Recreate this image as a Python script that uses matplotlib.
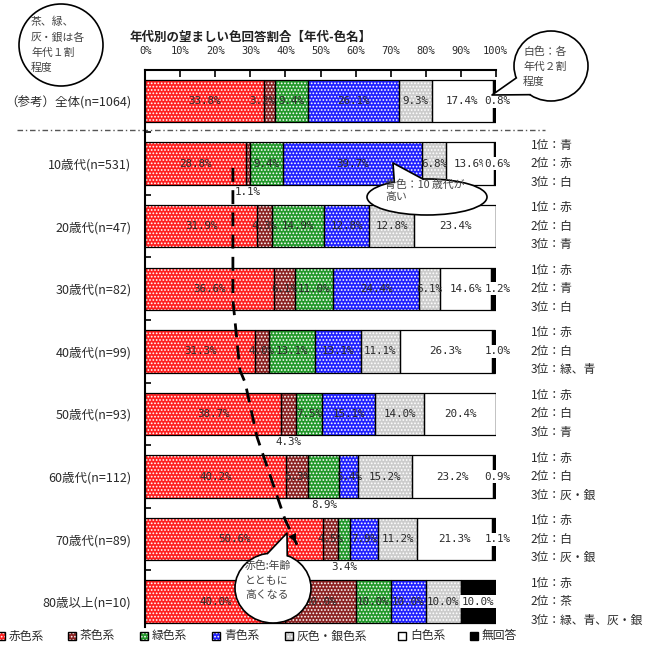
import matplotlib
matplotlib.use('Agg')
import matplotlib.pyplot as plt
import numpy as np
from matplotlib.patches import Ellipse, Polygon, Rectangle

plt.rcParams['font.family'] = ['Noto Sans CJK JP', 'DejaVu Sans']
plt.rcParams['hatch.linewidth'] = 0.8

# --- data (percent of answers per age group) ---
groups = ['（参考）全体(n=1064)', '10歳代(n=531)', '20歳代(n=47)', '30歳代(n=82)',
          '40歳代(n=99)', '50歳代(n=93)', '60歳代(n=112)', '70歳代(n=89)', '80歳以上(n=10)']
red = [33.8, 28.8, 31.9, 36.6, 31.3, 38.7, 40.2, 50.6, 40.0]
brown = [3.2, 1.1, 4.3, 6.1, 4.0, 4.3, 6.3, 4.5, 20.0]
green = [9.4, 9.4, 14.9, 11.0, 13.1, 7.5, 8.9, 3.4, 10.0]
blue = [26.1, 39.7, 12.8, 24.4, 13.1, 15.1, 5.4, 7.9, 10.0]
gray = [9.3, 6.8, 12.8, 6.1, 11.1, 14.0, 15.2, 11.2, 10.0]
white = [17.4, 13.6, 23.4, 14.6, 26.3, 20.4, 23.2, 21.3, 0.0]
no_answer = [0.8, 0.6, 0.0, 1.2, 1.0, 0.0, 0.9, 1.1, 10.0]

series_names = ['赤色系', '茶色系', '緑色系', '青色系', '灰色・銀色系', '白色系', '無回答']
ranks = ['',
         '1位：青\n2位：赤\n3位：白',
         '1位：赤\n2位：白\n3位：青',
         '1位：赤\n2位：青\n3位：白',
         '1位：赤\n2位：白\n3位：緑、青',
         '1位：赤\n2位：白\n3位：青',
         '1位：赤\n2位：白\n3位：灰・銀',
         '1位：赤\n2位：白\n3位：灰・銀',
         '1位：赤\n2位：茶\n3位：緑、青、灰・銀']

colors = ['#ff2020', '#8c2323', '#22992a', '#2020ff', '#cccccc', '#ffffff', '#000000']
hatches = ['.....', '.....', '.....', '.....', '.....', None, None]
txt_col = '#2a2a2a'
num_font = 'DejaVu Sans Mono'

# labels drawn just below the bar (row, series)
below = {(1, 1), (5, 1), (6, 2), (7, 2)}
# small horizontal nudges of crowded labels (row, series): shift in %
nudge = {(0, 1): -2.0}

# dashed trend line for red (x in %, y in row units)
trend_x = [25.0, 25.0, 27.0, 28.5, 31.9, 37.0, 39.9]
trend_y = [1.07, 3.18, 4.30, 4.50, 5.37, 6.21, 6.69]
trend_tip = (43.3, 7.09)

fig = plt.figure(figsize=(6.46, 6.45), dpi=100)
ax = fig.add_axes([145.3 / 646, 1 - 626.8 / 645, 350.4 / 646, 557.1 / 645])

values = np.array([red, brown, green, blue, gray, white, no_answer])
y = np.arange(len(groups))
left = np.zeros(len(groups))
for k in range(len(series_names)):
    ax.barh(y, values[k], left=left, height=0.68, color=colors[k], hatch=hatches[k],
            edgecolor='white', linewidth=0, zorder=2)
    ax.barh(y, values[k], left=left, height=0.68, fill=False, edgecolor='black',
            linewidth=0.9, zorder=3)
    for i in range(len(groups)):
        v = values[k][i]
        if v == 0:
            continue
        cx = left[i] + v / 2 + nudge.get((i, k), 0)
        cy = y[i]
        kw = dict(ha='center', va='center', fontsize=7.8, family=num_font, color=txt_col, zorder=4)
        if k == 6 and v < 5:
            cx = 100.5
        if k == 6:
            kw['bbox'] = dict(boxstyle='square,pad=0.15', fc='white', ec='none')
        if (i, k) in below:
            cy = y[i] + 0.45
        ax.text(cx, cy, f'{v:.1f}%', **kw)
    left += values[k]

# trend arrow
ax.plot(trend_x + [trend_tip[0]], trend_y + [trend_tip[1]], color='black', lw=2,
        dashes=(5, 3), zorder=5, clip_on=False)
ax.annotate('', xy=trend_tip, xytext=(trend_x[-1], trend_y[-1]),
            arrowprops=dict(arrowstyle='-|>,head_length=0.6,head_width=0.3', color='black', lw=0),
            zorder=5)

ax.set_xlim(0, 100)
ax.set_ylim(8.4, -0.5)
ax.xaxis.tick_top()
ax.set_xticks(range(0, 101, 10))
ax.set_xticklabels([f'{v}%' for v in range(0, 101, 10)], family=num_font, fontsize=7.5, color=txt_col)
ax.tick_params(axis='x', direction='in', length=5, width=1.2, pad=10)
ax.set_yticks(y)
ax.set_yticklabels(groups, fontsize=9, color=txt_col)
ax.tick_params(axis='y', which='major', length=0, pad=10)
ax.set_yticks(np.arange(0.5, 8, 1), minor=True)
ax.tick_params(axis='y', which='minor', direction='in', length=4, width=1.2)
for s in ['right', 'bottom']:
    ax.spines[s].set_visible(False)
for s in ['top', 'left']:
    ax.spines[s].set_linewidth(1.5)
ax.set_facecolor('none')

# separator between total and age groups
ax.plot([-36.6, 114], [0.47, 0.47], color='#555555', lw=1, ls=(0, (4, 2, 1, 2)), clip_on=False)

# ranking notes
for i, r in enumerate(ranks):
    if r:
        ax.text(110, y[i], r, ha='left', va='center', fontsize=8.5, color=txt_col, linespacing=1.55)

fig.text(130 / 646, 1 - 37 / 645, '年代別の望ましい色回答割合【年代-色名】', ha='left', va='center',
         fontsize=9, fontweight='bold', color='#222222')

# overlay in pixel coordinates for callouts and legend
ov = fig.add_axes([0, 0, 1, 1], zorder=10)
ov.set_xlim(0, 646)
ov.set_ylim(645, 0)
ov.axis('off')
ov.patch.set_alpha(0)


def bubble(cx, cy, rx, ry, lines, tx, ty, tip=None, a1=0, a2=0, ls=1.6):
    ov.add_patch(Ellipse((cx, cy), 2 * rx, 2 * ry, fc='white', ec='black', lw=1.2))
    if tip is not None:
        p1 = (cx + rx * np.cos(np.radians(a1)), cy + ry * np.sin(np.radians(a1)))
        p2 = (cx + rx * np.cos(np.radians(a2)), cy + ry * np.sin(np.radians(a2)))
        ov.add_patch(Polygon([p1, tip, p2, (cx, cy)], fc='white', ec='none'))
        ov.plot([p1[0], tip[0], p2[0]], [p1[1], tip[1], p2[1]], color='black', lw=1.2)
    ov.text(tx, ty, lines, ha='left', va='center', fontsize=7.8, color='#444444', linespacing=ls)


bubble(61, 45, 42, 41, '茶、緑、\n灰・銀は各\n年代１割\n程度', 31, 45)
bubble(551, 66, 37, 35, '白色：各\n年代２割\n程度', 523, 67, tip=(492, 95), a1=125, a2=160)
bubble(427, 197, 60, 18, '青色：10 歳代が\n高い', 385, 191, tip=(393, 163), a1=237, a2=266, ls=1.3)
bubble(273, 588, 38, 35, '赤色:年齢\nとともに\n高くなる', 245, 580, tip=(287, 533), a1=262, a2=292)

# legend
leg_x = [-3, 68, 140, 212, 285, 398, 470]
for k, name in enumerate(series_names):
    ov.add_patch(Rectangle((leg_x[k], 632), 8, 8, fc=colors[k], hatch=hatches[k], ec='white', lw=0))
    ov.add_patch(Rectangle((leg_x[k], 632), 8, 8, fill=False, ec='black', lw=1))
    ov.text(leg_x[k] + 12, 636, name, ha='left', va='center', fontsize=8.5, color=txt_col)

fig.savefig('out.png', dpi=100)
